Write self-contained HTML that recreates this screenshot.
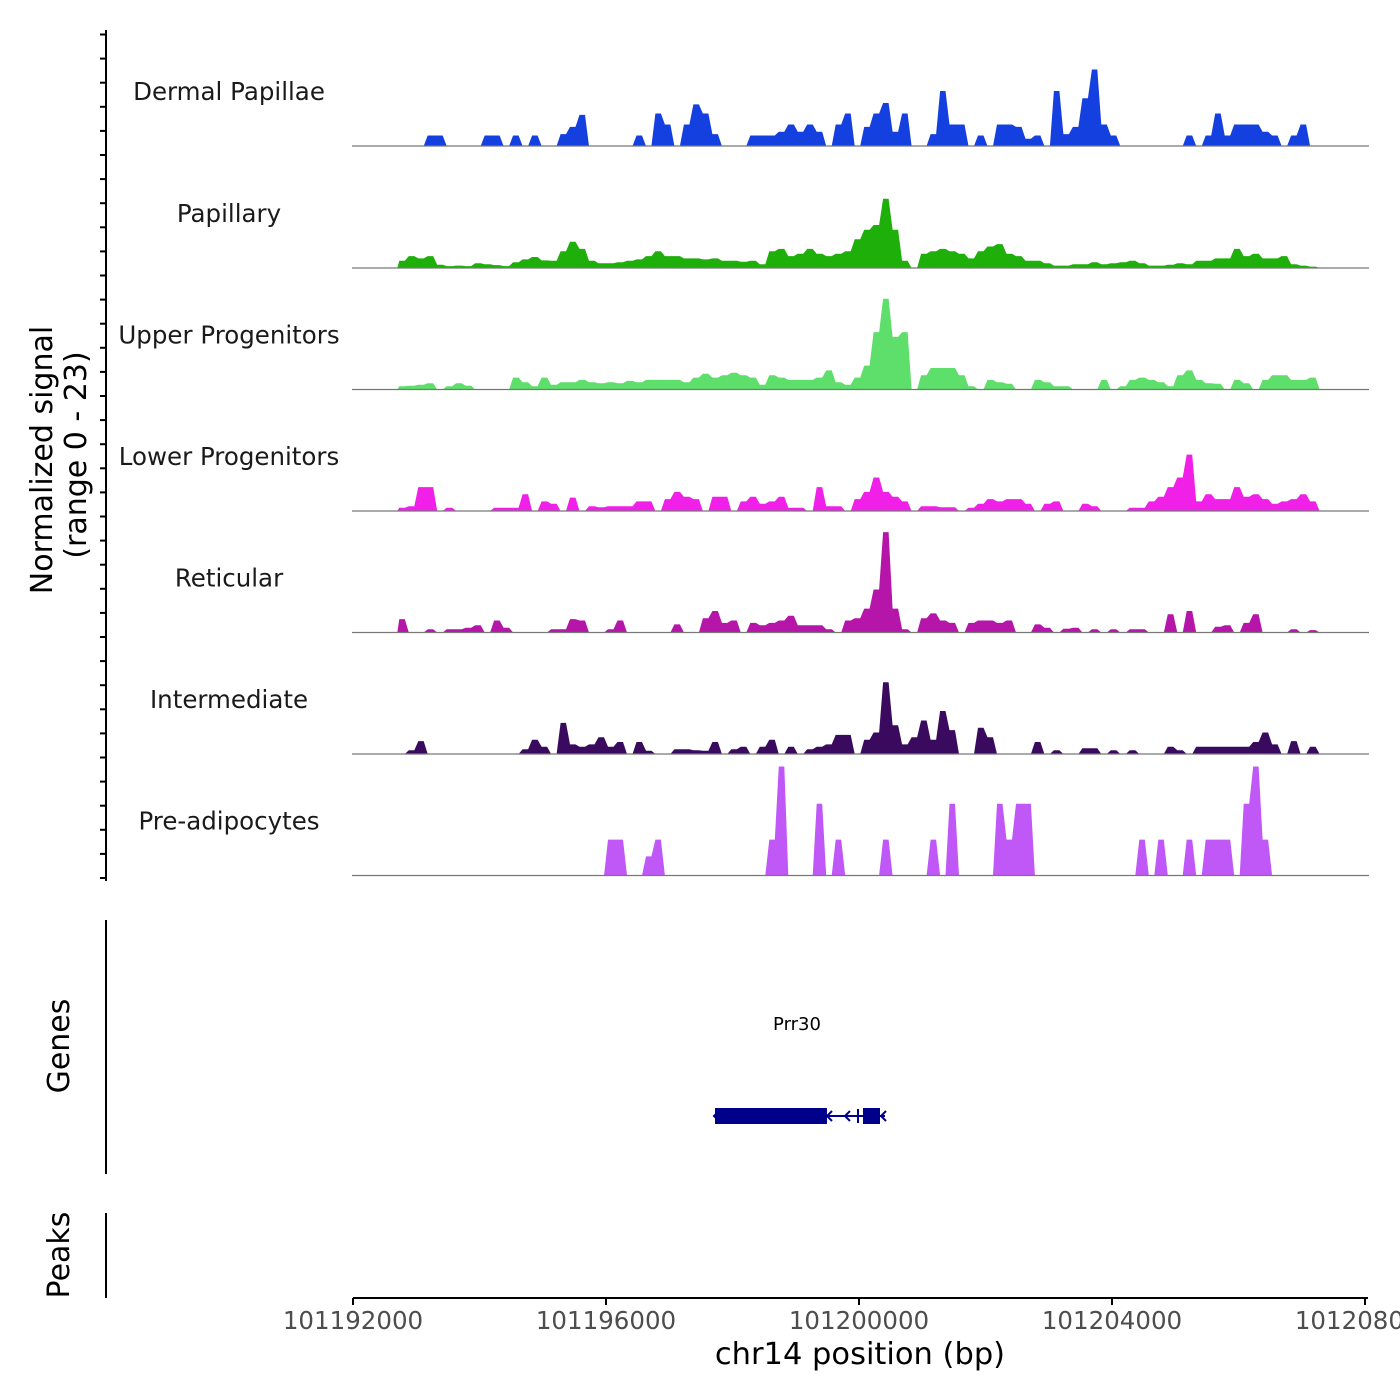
<!DOCTYPE html>
<html><head><meta charset="utf-8"><style>
html,body{margin:0;padding:0;background:#fff;width:1400px;height:1400px;overflow:hidden}
svg text{font-family:"DejaVu Sans","Liberation Sans",sans-serif}
</style></head><body>
<svg id="chart" width="1400" height="1400" viewBox="0 0 1400 1400" xmlns="http://www.w3.org/2000/svg">
<g id="tracks"></g>
<g id="yaxis">
<line x1="106" y1="30" x2="106" y2="881" stroke="#000" stroke-width="2"/>
</g>
<text transform="translate(52,460) rotate(-90)" text-anchor="middle" font-size="30">Normalized signal</text>
<text transform="translate(86,455) rotate(-90)" text-anchor="middle" font-size="30">(range 0 - 23)</text>
<g>
<line x1="106" y1="920" x2="106" y2="1174" stroke="#000" stroke-width="2"/>
<text transform="translate(69,1046) rotate(-90)" text-anchor="middle" font-size="30">Genes</text>
<text x="797" y="1030" text-anchor="middle" font-size="18">Prr30</text>
<g fill="#00008b" stroke="#00008b">
<line x1="715" y1="1116" x2="885" y2="1116" stroke-width="2"/>
<rect x="715" y="1108" width="112" height="16" stroke="none"/>
<rect x="863" y="1108" width="17" height="16" stroke="none"/>
<line x1="858" y1="1109" x2="858" y2="1123" stroke-width="2"/>
<polyline points="850,1111 845,1116 850,1121" fill="none" stroke-width="2"/>
<polyline points="832,1111 827,1116 832,1121" fill="none" stroke-width="2"/>
<polyline points="886,1111 881,1116 886,1121" fill="none" stroke-width="2"/>
<polyline points="719,1111 714,1116 719,1121" fill="none" stroke-width="2"/>
</g>
</g>
<g>
<line x1="106" y1="1213" x2="106" y2="1298" stroke="#000" stroke-width="2"/>
<text transform="translate(69,1255) rotate(-90)" text-anchor="middle" font-size="30">Peaks</text>
</g>
<g id="xaxis">
<line x1="353" y1="1298" x2="1368" y2="1298" stroke="#000" stroke-width="2"/>
</g>
<text x="860" y="1364" text-anchor="middle" font-size="30.5">chr14 position (bp)</text>
</svg>
<script>
const binStart = 101192700;
const binWidth = 150;
const trackNames = ["Dermal Papillae","Papillary","Upper Progenitors","Lower Progenitors","Reticular","Intermediate","Pre-adipocytes"];
const trackColors = ["#1540e0","#1faf0b","#5ede6b","#f020e8","#b515a8","#3a0a5e","#c058f8"];
const dermalPapillae = [0,0,0,2.2,2.2,0,0,0,0,2.2, 2.2,0,2.2,0,2.2,0,0,2.5,4,6.5, 0,0,0,0,0,2.2,0,6.8,4.5,0, 4.5,8.7,6.8,2.5,0,0,0,2.2,2.2,2.2, 3,4.5,3,4.5,3,0,4.5,6.8,0,4, 6.8,9,3,6.8,0,0,2.5,11.5,4.5,4.5, 0,2.2,0,4.5,4.5,4,1.5,2.2,0,11.5, 2.5,4,10,16,4.5,2.2,0,0,0,0, 0,0,0,2.2,0,2.2,6.8,2.2,4.5,4.5, 4.5,3,2.2,0,2.2,4.5,0,0,0,0];
const papillary = [1.5,2.5,2,2.5,0.7,0.4,0.5,0.4,1,0.8, 0.6,0.4,1.2,1.8,2.3,1.6,1.5,3.5,5.5,4, 1.5,1,1,1.2,1.5,1.8,2.5,3.5,2.5,2.5, 2,2,1.8,2,1.5,1.5,1.3,1.5,0.8,3.5, 4,2.5,3,4,3,2.5,3,3.5,6,8, 9,14.5,8,1.5,0,3,3.5,4,3.5,3, 2,3.5,4.5,5,3,2.5,1.5,1.5,1,0.5, 0.5,0.8,0.8,1.2,0.8,1,1.2,1.5,1,0.5, 0.5,0.7,1,0.8,1.5,1.5,2,2,4,2.5, 3,2,2,2.5,0.8,0.5,0.3,0,0,0];
const upperProgenitors = [0.7,0.8,1,1.3,0,0.7,1.3,0.8,0,0, 0,0,2.5,1.5,0.7,2.5,1,1.5,1.5,2, 1.5,1.3,1.5,1.3,1.8,1.5,2,2,2,2, 1.5,2.5,3.3,2.5,3,3.5,3,2.5,1,3, 2.5,2,2,2,2.5,4,1.5,1,2.5,5, 12,19,11,12,0,3,4.5,4.5,4.5,3, 0.7,0,2,1.5,1.2,0,0,2,1.5,0.7, 0.7,0,0,0,2,0,0.7,2,2.5,2, 1.5,0.7,3,4,2,1.3,1.2,0,2,1.3, 0,2,3,3,2,2,2.5,0,0,0];
const lowerProgenitors = [0.7,1,5,5,0,0.7,0,0,0,0, 0.7,0.7,0.7,3.5,0,2,1.5,0,2.8,0, 1,0.8,1,1,1,2,2,0,2.5,4, 3,2.5,0,3,3,0,2,3,1.5,2, 3,0.7,0.7,0,5,1,1,0,2.5,4, 7,4,3,2,0,1,1,0.8,0.8,0, 0.7,1.5,2.5,2,2.5,2.5,1.5,0,1.5,2, 0,0,1.5,1,0,0,0,0.7,0.7,2, 3,5,7,11.8,2,3.5,2.5,2.5,5,3, 3.5,2.5,1.5,2,2.5,3.5,2,0,0,0];
const reticular = [2.8,0,0,0.7,0,0.7,0.7,1,1.5,0, 2.5,1,0,0,0,0,0.7,0.7,2.8,2.5, 0,0,0.7,2.5,0,0,0,0,0,1.7, 0,0,3,4.5,2,2.5,0,2,1.5,2, 2.5,3.5,1.5,1.5,1.5,0.7,0,2.5,3,5, 9,21,5,0.7,0,3,4,2.5,2,0, 2,2.5,2.5,2,2.5,0,0,1.7,1,0, 0.8,1,0,0.7,0,0.7,0,0.7,0.7,0, 0,3.8,0,4.5,0,0,1.2,1.5,0,2, 3.8,0,0,0,0.7,0,0.5,0,0,0];
const intermediate = [0,0.8,2.7,0,0,0,0,0,0,0, 0,0,0,1,3,1.5,0,6.5,2,1.5, 2,3.5,1.5,2.5,0,2.5,0.7,0,0,1, 1,0.8,0.7,2.5,0,1,1.5,0,1.5,3, 0,1.5,0,1,1.5,2,4,4,0,3, 4.5,15,6,2,3.5,7,3,9,5,0, 0,5.5,3.5,0,0,0,0,2.5,0,0.8, 0,0,1.2,1.2,0,0.8,0,0.8,0,0, 0,1.5,0.8,0,1.5,1.5,1.5,1.5,1.5,1.5, 2.5,4.5,2,0,2.7,0,1.5,0,0,0];
const preAdipocytes = [0,0,0,0,0,0,0,0,0,0, 0,0,0,0,0,0,0,0,0,0, 0,0,7.5,7.5,0,0,4,7.5,0,0, 0,0,0,0,0,0,0,0,0,7.5, 22.8,0,0,0,15,0,7.5,0,0,0, 0,7.5,0,0,0,0,7.5,0,15,0, 0,0,0,15,7.5,15,15,0,0,0, 0,0,0,0,0,0,0,0,7.5,0, 7.5,0,0,7.5,0,7.5,7.5,7.5,0,15, 22.8,7.5,0,0,0,0,0,0,0,0];
const trackValues = [dermalPapillae,papillary,upperProgenitors,lowerProgenitors,reticular,intermediate,preAdipocytes];
const xTickValues = [101192000,101196000,101200000,101204000,101208000];
const xTickLabels = ["101192000","101196000","101200000","101204000","101208000"];

const NS="http://www.w3.org/2000/svg";
function xScale(bp){return 353 + (bp-101192000)*(253/4000);}
function yScale(v,base){return base - v*4.78;}
const tracksG=document.getElementById('tracks');
const baselines=[146,268,389.5,511,632.5,754,875.5];
trackValues.forEach((vals,t)=>{
  const base=baselines[t];
  let pts=[[xScale(binStart),base]];
  vals.forEach((v,i)=>{
    const xl=xScale(binStart+i*binWidth), xr=xScale(binStart+(i+1)*binWidth);
    pts.push([xl+2,yScale(v,base)]);pts.push([xr-2,yScale(v,base)]);
  });
  pts.push([xScale(binStart+vals.length*binWidth),base]);
  const p=document.createElementNS(NS,'polygon');
  p.setAttribute('points',pts.map(a=>a[0].toFixed(1)+','+a[1].toFixed(1)).join(' '));
  p.setAttribute('fill',trackColors[t]);
  
  
  tracksG.appendChild(p);
  const l=document.createElementNS(NS,'line');
  l.setAttribute('x1',352);l.setAttribute('x2',1369);l.setAttribute('y1',base);l.setAttribute('y2',base);
  l.setAttribute('stroke','#777');l.setAttribute('stroke-width','1.2');
  
  
  tracksG.appendChild(l);
  const tx=document.createElementNS(NS,'text');
  tx.setAttribute('x',229);tx.setAttribute('y',base-46);tx.setAttribute('text-anchor','middle');
  tx.setAttribute('font-size','24.5');tx.setAttribute('fill','#1a1a1a');
  tx.textContent=trackNames[t];
  
  
  tracksG.appendChild(tx);
});
const yG=document.getElementById('yaxis');
for(let k=0;k<36;k++){
  const y=878-k*24.1; if(y<32)break;
  const t=document.createElementNS(NS,'line');
  t.setAttribute('x1',100);t.setAttribute('x2',106);t.setAttribute('y1',y);t.setAttribute('y2',y);
  t.setAttribute('stroke','#000');t.setAttribute('stroke-width','2');
  
  
  yG.appendChild(t);
}
const xG=document.getElementById('xaxis');
xTickValues.forEach((v,i)=>{
  const x=xScale(v);
  const t=document.createElementNS(NS,'line');
  t.setAttribute('x1',x);t.setAttribute('x2',x);t.setAttribute('y1',1298);t.setAttribute('y2',1305);
  t.setAttribute('stroke','#000');t.setAttribute('stroke-width','2');
  
  
  xG.appendChild(t);
  const tx=document.createElementNS(NS,'text');
  tx.setAttribute('x',x);tx.setAttribute('y',1329);tx.setAttribute('text-anchor','middle');
  tx.setAttribute('font-size','24.5');tx.setAttribute('fill','#4d4d4d');
  tx.textContent=xTickLabels[i];
  
  
  xG.appendChild(tx);
});
</script>
</body></html>
